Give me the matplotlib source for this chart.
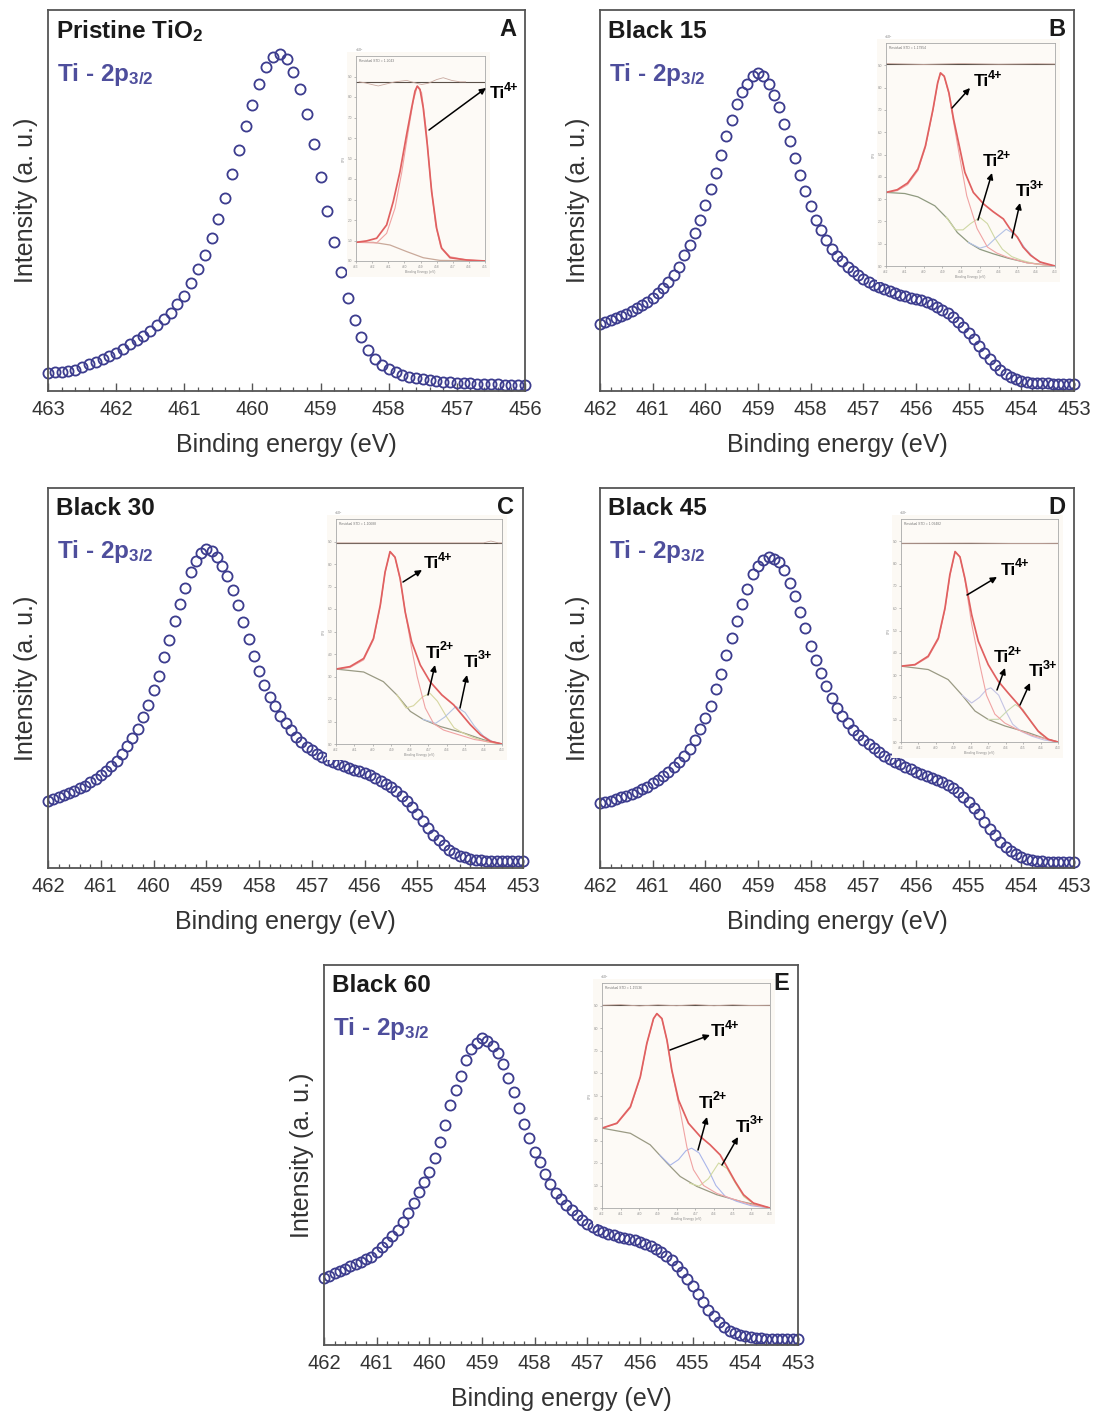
import numpy as np
import matplotlib
matplotlib.use("Agg")
import matplotlib.pyplot as plt
from matplotlib.ticker import MultipleLocator
from matplotlib.patches import Rectangle, FancyArrowPatch

plt.rcParams['font.family'] = ['Liberation Sans', 'DejaVu Sans']
plt.rcParams['mathtext.fontset'] = 'custom'
plt.rcParams['mathtext.rm'] = 'Liberation Sans'
plt.rcParams['mathtext.bf'] = 'Liberation Sans:bold'
plt.rcParams['mathtext.it'] = 'Liberation Sans:italic'

# ---------------- main spectra (binding energy grid, 0.1 eV steps) ----------------
energy_a = np.round(np.arange(463.0, 455.95, -0.1), 1)
energy_bk = np.round(np.arange(462.0, 452.95, -0.1), 1)

int_pristine = [53, 56, 58, 59, 63, 72, 80, 86, 95, 105,
                115, 127, 140, 153, 166, 180, 198, 216, 235, 260,
                285, 325, 367, 408, 458, 516, 579, 650, 723, 795,
                858, 921, 973, 1003, 1011, 995, 958, 907, 832, 742,
                641, 541, 448, 357, 278, 213, 163, 124, 97, 79,
                66, 56, 48, 43, 39, 36, 33, 31, 28, 26,
                25, 24, 23, 22, 21, 20, 20, 19, 19, 18,
                18]
int_black15 = [202, 208, 213, 218, 225, 232, 240, 248, 257, 267,
               280, 294, 310, 327, 348, 374, 408, 438, 474, 515,
               558, 608, 655, 710, 765, 815, 862, 898, 924, 948,
               955, 948, 924, 890, 852, 802, 750, 700, 648, 600,
               555, 515, 484, 454, 428, 407, 390, 374, 360, 348,
               337, 328, 320, 313, 306, 300, 294, 289, 284, 280,
               276, 272, 267, 261, 253, 244, 234, 222, 208, 192,
               174, 155, 135, 115, 96, 78, 63, 51, 42, 35,
               30, 27, 25, 24, 23, 23, 22, 22, 22, 22,
               22]
int_black30 = [202, 208, 213, 220, 225, 232, 240, 247, 257, 266,
               278, 292, 305, 322, 342, 365, 390, 417, 453, 488,
               533, 577, 633, 685, 740, 793, 839, 888, 920, 945,
               957, 950, 932, 905, 875, 835, 790, 737, 687, 635,
               590, 548, 514, 485, 457, 435, 413, 394, 378, 364,
               353, 342, 333, 324, 318, 312, 305, 300, 295, 290,
               284, 278, 270, 262, 253, 242, 230, 215, 200, 182,
               163, 142, 120, 100, 83, 68, 55, 45, 37, 32,
               28, 25, 23, 22, 21, 21, 20, 20, 20, 20,
               20]
int_black45 = [193, 196, 200, 206, 211, 216, 220, 228, 235, 243,
               253, 263, 276, 288, 303, 318, 336, 356, 383, 415,
               448, 485, 536, 581, 638, 688, 738, 788, 833, 878,
               903, 920, 930, 925, 916, 890, 853, 813, 765, 716,
               665, 623, 583, 543, 508, 478, 453, 432, 413, 398,
               383, 370, 358, 346, 336, 326, 318, 310, 302, 296,
               288, 282, 276, 270, 263, 256, 248, 238, 228, 213,
               198, 180, 160, 138, 118, 98, 78, 63, 51, 41,
               33, 28, 24, 22, 20, 19, 18, 18, 18, 18,
               18]
int_black60 = [201, 208, 215, 222, 229, 236, 243, 250, 258, 264,
               278, 292, 307, 325, 345, 369, 396, 426, 458, 488,
               518, 560, 608, 660, 718, 765, 806, 853, 886, 905,
               920, 910, 896, 873, 843, 801, 758, 710, 663, 620,
               578, 548, 513, 483, 456, 436, 418, 403, 388, 375,
               363, 353, 345, 338, 333, 328, 323, 320, 316, 313,
               308, 303, 296, 288, 278, 268, 255, 238, 218, 198,
               178, 153, 128, 106, 86, 68, 53, 43, 36, 30,
               26, 23, 21, 20, 19, 19, 18, 18, 18, 18,
               18]

titles = ["Pristine TiO$_{\\mathbf{2}}$", "Black 15", "Black 30", "Black 45", "Black 60"]
letters = ["A", "B", "C", "D", "E"]

# ---------------- inset (peak-fit) curves ----------------
A_ENV_E = [463.0, 462.34, 461.72, 461.1, 460.69, 460.27, 459.86, 459.55, 459.34, 459.2, 459.03, 458.83, 458.58, 458.31, 458.0, 457.69, 457.17, 456.14, 455.0]
A_ENV_Y = [0.091, 0.098, 0.111, 0.176, 0.29, 0.437, 0.617, 0.747, 0.829, 0.853, 0.837, 0.747, 0.568, 0.339, 0.16, 0.062, 0.016, 0.005, 0.0]
A_T4_E = [463.0, 461.72, 461.1, 460.58, 460.17, 459.76, 459.45, 459.2, 458.93, 458.66, 458.37, 458.06, 457.75, 457.17, 456.14, 455.0]
A_T4_Y = [0.091, 0.088, 0.135, 0.258, 0.429, 0.633, 0.78, 0.853, 0.82, 0.65, 0.388, 0.176, 0.07, 0.021, 0.005, 0.0]
A_BG_E = [463.0, 461.93, 460.89, 459.86, 458.83, 457.8, 455.0]
A_BG_Y = [0.091, 0.091, 0.078, 0.046, 0.016, 0.003, 0.0]
A_RES_E = [462.8, 462.44, 462.03, 461.62, 461.1, 460.58, 459.86, 459.34, 458.93, 458.52, 458.0, 457.59, 457.07, 456.55, 456.2]
A_RES_Y = [0, -0.005, -0.013, -0.02, -0.01, 0, 0.007, -0.005, -0.013, -0.007, 0.011, 0.02, 0.007, 0, 0]

B_ENV_E = [462.0, 461.4, 460.85, 460.3, 459.9, 459.5, 459.25, 459.1, 458.9, 458.65, 458.4, 458.1, 457.8, 457.35, 456.8, 456.3, 455.75, 455.4, 455.0, 454.7, 454.3, 453.8, 453.0]
B_ENV_Y = [0.33, 0.342, 0.372, 0.435, 0.539, 0.702, 0.821, 0.866, 0.851, 0.777, 0.658, 0.539, 0.42, 0.33, 0.278, 0.244, 0.211, 0.167, 0.129, 0.085, 0.048, 0.018, 0.0]
B_T4_E = [462.0, 461.4, 460.85, 460.3, 459.9, 459.5, 459.25, 459.1, 458.9, 458.65, 458.4, 458.1, 457.7, 457.15, 456.6, 456.1, 455.5, 454.5, 453.0]
B_T4_Y = [0.33, 0.338, 0.365, 0.428, 0.532, 0.698, 0.82, 0.866, 0.85, 0.772, 0.645, 0.5, 0.315, 0.168, 0.085, 0.058, 0.038, 0.014, 0.0]
B_BG_E = [462.0, 461.0, 460.3, 459.4, 458.7, 458.2, 457.6, 457.0, 456.3, 455.5, 454.5, 453.0]
B_BG_Y = [0.33, 0.325, 0.31, 0.27, 0.21, 0.15, 0.105, 0.075, 0.055, 0.035, 0.015, 0.0]
B_T2_E = [458.8, 458.3, 457.9, 457.5, 457.0, 456.6, 456.2, 455.8, 455.3, 454.8, 454.0, 453.0]
B_T2_Y = [0.22, 0.162, 0.162, 0.19, 0.218, 0.19, 0.125, 0.075, 0.042, 0.026, 0.008, 0.0]
B_T3_E = [457.6, 457.0, 456.6, 456.1, 455.6, 455.1, 454.6, 454.1, 453.6, 453.0]
B_T3_Y = [0.105, 0.08, 0.09, 0.13, 0.165, 0.14, 0.08, 0.035, 0.01, 0.0]
B_RES_E = [462.0, 460.0, 458.0, 456.0, 454.0, 453.0]
B_RES_Y = [0.002, -0.002, 0.002, -0.001, 0.001, 0.0]

C_ENV_E = [462.0, 461.24, 460.5, 459.97, 459.6, 459.34, 459.07, 458.8, 458.52, 458.25, 457.9, 457.43, 456.9, 456.26, 455.62, 455.17, 454.72, 454.17, 453.63, 453.0]
C_ENV_Y = [0.333, 0.344, 0.38, 0.469, 0.617, 0.764, 0.855, 0.83, 0.735, 0.587, 0.454, 0.351, 0.277, 0.218, 0.174, 0.13, 0.086, 0.041, 0.012, 0.0]
C_T4_E = [462.0, 461.24, 460.5, 459.97, 459.6, 459.34, 459.07, 458.8, 458.52, 458.2, 457.9, 457.6, 457.16, 456.7, 456.17, 455.5, 454.5, 453.0]
C_T4_Y = [0.333, 0.34, 0.374, 0.463, 0.613, 0.762, 0.855, 0.83, 0.73, 0.565, 0.425, 0.3, 0.16, 0.09, 0.062, 0.045, 0.02, 0.0]
C_BG_E = [462.0, 460.5, 459.43, 458.7, 457.97, 457.25, 456.35, 455.08, 454.0, 453.0]
C_BG_Y = [0.333, 0.32, 0.277, 0.218, 0.145, 0.108, 0.078, 0.049, 0.019, 0.0]
C_T2_E = [458.7, 458.2, 457.8, 457.3, 456.9, 456.5, 456.0, 455.6, 455.1, 454.5, 453.8, 453.0]
C_T2_Y = [0.218, 0.16, 0.17, 0.21, 0.225, 0.19, 0.12, 0.072, 0.048, 0.027, 0.009, 0.0]
C_T3_E = [457.3, 456.6, 456.1, 455.5, 455.0, 454.5, 454.0, 453.5, 453.0]
C_T3_Y = [0.11, 0.092, 0.12, 0.167, 0.14, 0.08, 0.035, 0.01, 0.0]
C_RES_E = [462.0, 455.0, 454.0, 453.6, 453.2, 453.0]
C_RES_Y = [0.0, 0.0, 0.0, 0.008, 0.0, 0.0]

D_ENV_E = [462.0, 461.2, 460.44, 459.86, 459.48, 459.2, 458.9, 458.62, 458.34, 457.95, 457.57, 457.0, 456.43, 455.86, 455.28, 454.71, 454.14, 453.56, 453.0]
D_ENV_Y = [0.34, 0.347, 0.385, 0.466, 0.6, 0.75, 0.854, 0.83, 0.735, 0.571, 0.452, 0.347, 0.273, 0.22, 0.168, 0.109, 0.049, 0.012, 0.0]
D_T4_E = [462.0, 461.2, 460.44, 459.86, 459.48, 459.2, 458.9, 458.62, 458.34, 457.95, 457.48, 457.1, 456.62, 456.05, 455.3, 454.5, 453.0]
D_T4_Y = [0.34, 0.345, 0.38, 0.46, 0.595, 0.745, 0.853, 0.83, 0.73, 0.53, 0.345, 0.21, 0.125, 0.085, 0.055, 0.03, 0.0]
D_BG_E = [462.0, 460.44, 459.3, 458.53, 457.76, 457.0, 456.05, 454.71, 453.76, 453.0]
D_BG_Y = [0.34, 0.325, 0.28, 0.213, 0.139, 0.101, 0.072, 0.042, 0.016, 0.0]
D_T2_E = [458.5, 457.95, 457.5, 457.1, 456.85, 456.4, 456.0, 455.6, 455.1, 454.5, 453.8, 453.0]
D_T2_Y = [0.21, 0.175, 0.2, 0.235, 0.243, 0.21, 0.14, 0.08, 0.047, 0.026, 0.009, 0.0]
D_T3_E = [457.0, 456.4, 455.9, 455.45, 455.0, 454.5, 454.0, 453.5, 453.0]
D_T3_Y = [0.101, 0.102, 0.14, 0.168, 0.145, 0.085, 0.035, 0.01, 0.0]
D_RES_E = [462.0, 458.0, 455.0, 453.0]
D_RES_Y = [0.0, 0.001, -0.001, 0.0]

E_ENV_E = [462.0, 461.2, 460.48, 459.95, 459.6, 459.24, 459.06, 458.79, 458.52, 458.26, 457.9, 457.37, 456.74, 456.21, 455.67, 455.32, 454.87, 454.42, 453.89, 453.0]
E_ENV_Y = [0.355, 0.377, 0.45, 0.583, 0.731, 0.842, 0.864, 0.842, 0.746, 0.613, 0.48, 0.377, 0.318, 0.281, 0.236, 0.185, 0.118, 0.059, 0.022, 0.0]
E_T4_E = [462.0, 461.2, 460.48, 459.95, 459.6, 459.24, 459.06, 458.79, 458.52, 458.26, 457.81, 457.45, 457.1, 456.56, 455.85, 455.0, 454.0, 453.0]
E_T4_Y = [0.355, 0.375, 0.445, 0.58, 0.73, 0.84, 0.864, 0.84, 0.745, 0.61, 0.43, 0.27, 0.17, 0.1, 0.065, 0.04, 0.015, 0.0]
E_BG_E = [462.0, 460.48, 459.42, 458.52, 457.81, 456.92, 455.85, 454.6, 453.0]
E_BG_Y = [0.355, 0.332, 0.281, 0.2, 0.14, 0.096, 0.059, 0.03, 0.0]
E_T2_E = [458.9, 458.35, 457.9, 457.5, 457.2, 456.8, 456.3, 455.9, 455.4, 454.8, 454.0, 453.0]
E_T2_Y = [0.235, 0.19, 0.215, 0.255, 0.266, 0.245, 0.17, 0.1, 0.052, 0.03, 0.01, 0.0]
E_T3_E = [457.3, 456.8, 456.3, 455.75, 455.3, 454.85, 454.4, 453.9, 453.0]
E_T3_Y = [0.11, 0.097, 0.13, 0.2, 0.175, 0.11, 0.05, 0.02, 0.0]
E_RES_E = [462.0, 461.0, 460.0, 459.0, 458.0, 457.0, 456.0, 455.0, 454.0, 453.0]
E_RES_Y = [0.0, 0.003, -0.003, 0.002, -0.002, 0.003, -0.002, 0.002, -0.001, 0.0]

# ---------------- layout (pixel boxes) ----------------
W, H = 1100, 1414
fig = plt.figure(figsize=(W / 100, H / 100), dpi=100)
fig.patch.set_facecolor('white')


def fr(l, t, r, b):
    return [l / W, 1 - b / H, (r - l) / W, (b - t) / H]


def fpt(x, y):
    return (x / W, 1 - y / H)


MARK = '#3c3c8e'
SPINE = '#555555'
TXT = '#333333'
TI_COL = '#4e4e9c'

panels = [
    dict(x=energy_a, y=int_pristine, box=(48, 10, 525, 391), xlim=(463, 456), ytop=1143),
    dict(x=energy_bk, y=int_black15, box=(600, 10, 1074, 391), xlim=(462, 453), ytop=1145),
    dict(x=energy_bk, y=int_black30, box=(48, 488, 523, 868), xlim=(462, 453), ytop=1140),
    dict(x=energy_bk, y=int_black45, box=(600, 488, 1074, 868), xlim=(462, 453), ytop=1136),
    dict(x=energy_bk, y=int_black60, box=(324, 965, 798, 1345), xlim=(462, 453), ytop=1138),
]

for k, p in enumerate(panels):
    l, t, r, b = p['box']
    ax = fig.add_axes(fr(l, t, r, b), zorder=0)
    ax.plot(p['x'], p['y'], 'o', mfc='none', mec=MARK, ms=7.3, mew=1.3, clip_on=False)
    ax.set_xlim(*p['xlim'])
    ax.set_ylim(0, p['ytop'])
    ax.xaxis.set_major_locator(MultipleLocator(1))
    ax.xaxis.set_minor_locator(MultipleLocator(0.2))
    ax.set_yticks([])
    ax.tick_params(axis='x', which='major', direction='in', length=6, width=1.0,
                   color=SPINE, labelsize=14.5, labelcolor=TXT, pad=6.5)
    ax.tick_params(axis='x', which='minor', direction='in', length=3, width=0.9, color=SPINE)
    for s in ax.spines.values():
        s.set_color(SPINE)
        s.set_linewidth(1.3)
    ax.set_xlabel('Binding energy (eV)', fontsize=18, color=TXT, labelpad=10)
    ax.set_ylabel('Intensity (a. u.)', fontsize=18, color=TXT, labelpad=7)
    fig.text(*fpt(l + 8, t + 21), titles[k], fontsize=17.5, fontweight='bold',
             color='#1a1a1a', ha='left', va='center')
    fig.text(*fpt(l + 9, t + 64), 'Ti - 2p$_{\\mathbf{3/2}}$', fontsize=17.5,
             fontweight='bold', color=TI_COL, ha='left', va='center')
    fig.text(*fpt(r - 9, t + 19), letters[k], fontsize=17, fontweight='bold',
             color='#1a1a1a', ha='right', va='center')

# ---------------- insets ----------------
insets = [
    dict(box=(356, 56, 485, 261), xlim=(463, 455), res=0.874,
         env=(A_ENV_E, A_ENV_Y), t4=(A_T4_E, A_T4_Y), bg=(A_BG_E, A_BG_Y),
         t2=None, t3=None, resid=(A_RES_E, A_RES_Y),
         c2=None, c3=None, bgc='#c9a99a', std='Residual STD = 1.2043',
         ann=[('4+', (429, 130), (486, 88), (490, 94))]),
    dict(box=(886, 43, 1055, 266), xlim=(462, 453), res=0.906,
         env=(B_ENV_E, B_ENV_Y), t4=(B_T4_E, B_T4_Y), bg=(B_BG_E, B_BG_Y),
         t2=(B_T2_E, B_T2_Y), t3=(B_T3_E, B_T3_Y), resid=(B_RES_E, B_RES_Y),
         c2='#cfd8a4', c3='#b3c2e6', bgc='#8f9a80', std='Residual STD = 1.17954',
         ann=[('4+', (952, 108), (970, 88), (974, 82)),
              ('2+', (978, 220), (992, 173), (983, 162)),
              ('3+', (1012, 238), (1020, 203), (1016, 192))]),
    dict(box=(336, 519, 502, 744), xlim=(462, 453), res=0.894,
         env=(C_ENV_E, C_ENV_Y), t4=(C_T4_E, C_T4_Y), bg=(C_BG_E, C_BG_Y),
         t2=(C_T2_E, C_T2_Y), t3=(C_T3_E, C_T3_Y), resid=(C_RES_E, C_RES_Y),
         c2='#d6d6a0', c3='#b5c4e2', bgc='#9a9a84', std='Residual STD = 1.10688',
         ann=[('4+', (403, 582), (422, 570), (424, 564)),
              ('2+', (428, 695), (435, 665), (426, 653)),
              ('3+', (460, 708), (467, 675), (464, 662))]),
    dict(box=(901, 519, 1058, 742), xlim=(462, 453), res=0.891,
         env=(D_ENV_E, D_ENV_Y), t4=(D_T4_E, D_T4_Y), bg=(D_BG_E, D_BG_Y),
         t2=(D_T2_E, D_T2_Y), t3=(D_T3_E, D_T3_Y), resid=(D_RES_E, D_RES_Y),
         c2='#c4c4e4', c3='#cbd9b2', bgc='#9a9a84', std='Residual STD = 1.09482',
         ann=[('4+', (967, 595), (997, 577), (1001, 570)),
              ('2+', (997, 690), (1005, 668), (994, 658)),
              ('3+', (1020, 705), (1030, 683), (1029, 672))]),
    dict(box=(602, 983, 770, 1208), xlim=(462, 453), res=0.901,
         env=(E_ENV_E, E_ENV_Y), t4=(E_T4_E, E_T4_Y), bg=(E_BG_E, E_BG_Y),
         t2=(E_T2_E, E_T2_Y), t3=(E_T3_E, E_T3_Y), resid=(E_RES_E, E_RES_Y),
         c2='#aab6ea', c3='#d2daa2', bgc='#9a9a84', std='Residual STD = 1.15536',
         ann=[('4+', (670, 1050), (710, 1035), (711, 1032)),
              ('2+', (698, 1150), (707, 1117), (699, 1103)),
              ('3+', (722, 1165), (738, 1137), (736, 1127))]),
]

for ins in insets:
    l, t, r, b = ins['box']
    back = Rectangle(((l - 9) / W, 1 - (b + 16) / H), (r - l + 14) / W, (b - t + 20) / H,
                     transform=fig.transFigure, facecolor='#fcf9f4', edgecolor='none', zorder=1)
    fig.add_artist(back)
    ia = fig.add_axes(fr(l, t, r, b), zorder=2)
    ia.set_facecolor('#fdfaf6')
    ia.set_xlim(*ins['xlim'])
    ia.set_ylim(0, 1)
    for s in ia.spines.values():
        s.set_color('#a8a8a8')
        s.set_linewidth(0.6)
    xt = np.arange(ins['xlim'][1], ins['xlim'][0] + 0.5, 1)
    ia.set_xticks(xt)
    ia.set_xticklabels([f'{v:.0f}' for v in xt])
    yt = np.arange(0.0, 0.95, 0.1)
    ia.set_yticks(yt)
    ia.set_yticklabels([f'{v * 10:.1f}' for v in yt])
    ia.tick_params(labelsize=2.3, length=1.6, width=0.4, pad=1.2, colors='#8a8a8a')
    ia.set_xlabel('Binding Energy (eV)', fontsize=2.4, color='#8a8a8a', labelpad=1)
    ia.set_ylabel('CPS', fontsize=2.2, color='#8a8a8a', labelpad=1)
    ia.text(0.02, 0.985, ins['std'], transform=ia.transAxes, fontsize=2.4,
            color='#777777', va='top', ha='left')
    ia.text(-0.01, 1.01, r'$\times10^{4}$', transform=ia.transAxes, fontsize=2.4,
            color='#777777', va='bottom', ha='left')
    # residual
    ia.axhline(ins['res'], color='#5a5048', lw=0.8)
    re, ry = ins['resid']
    ia.plot(re, ins['res'] + np.array(ry), color='#c8a9a0', lw=0.6)
    # components
    ia.plot(*ins['bg'], color=ins['bgc'], lw=0.9)
    if ins['t2'] is not None:
        ia.plot(*ins['t2'], color=ins['c2'], lw=0.8)
        ia.plot(*ins['t3'], color=ins['c3'], lw=0.8)
    ia.plot(*ins['t4'], color='#f0a3a3', lw=0.8)
    ia.plot(*ins['env'], color='#e06060', lw=1.25, solid_joinstyle='round')
    for sup, tail, head, lab in ins['ann']:
        fig.add_artist(FancyArrowPatch(
            fpt(*tail), fpt(*head), transform=fig.transFigure,
            arrowstyle='-|>', mutation_scale=9, color='black', lw=1.1,
            shrinkA=0, shrinkB=0, zorder=3))
        fig.text(*fpt(*lab), 'Ti', fontsize=12.5, fontweight='bold',
                 color='black', ha='left', va='center', zorder=4)
        fig.text(*fpt(lab[0] + 14, lab[1] - 6), sup, fontsize=9, fontweight='bold',
                 color='black', ha='left', va='center', zorder=4)

fig.savefig('out.png', dpi=100, facecolor='white')
